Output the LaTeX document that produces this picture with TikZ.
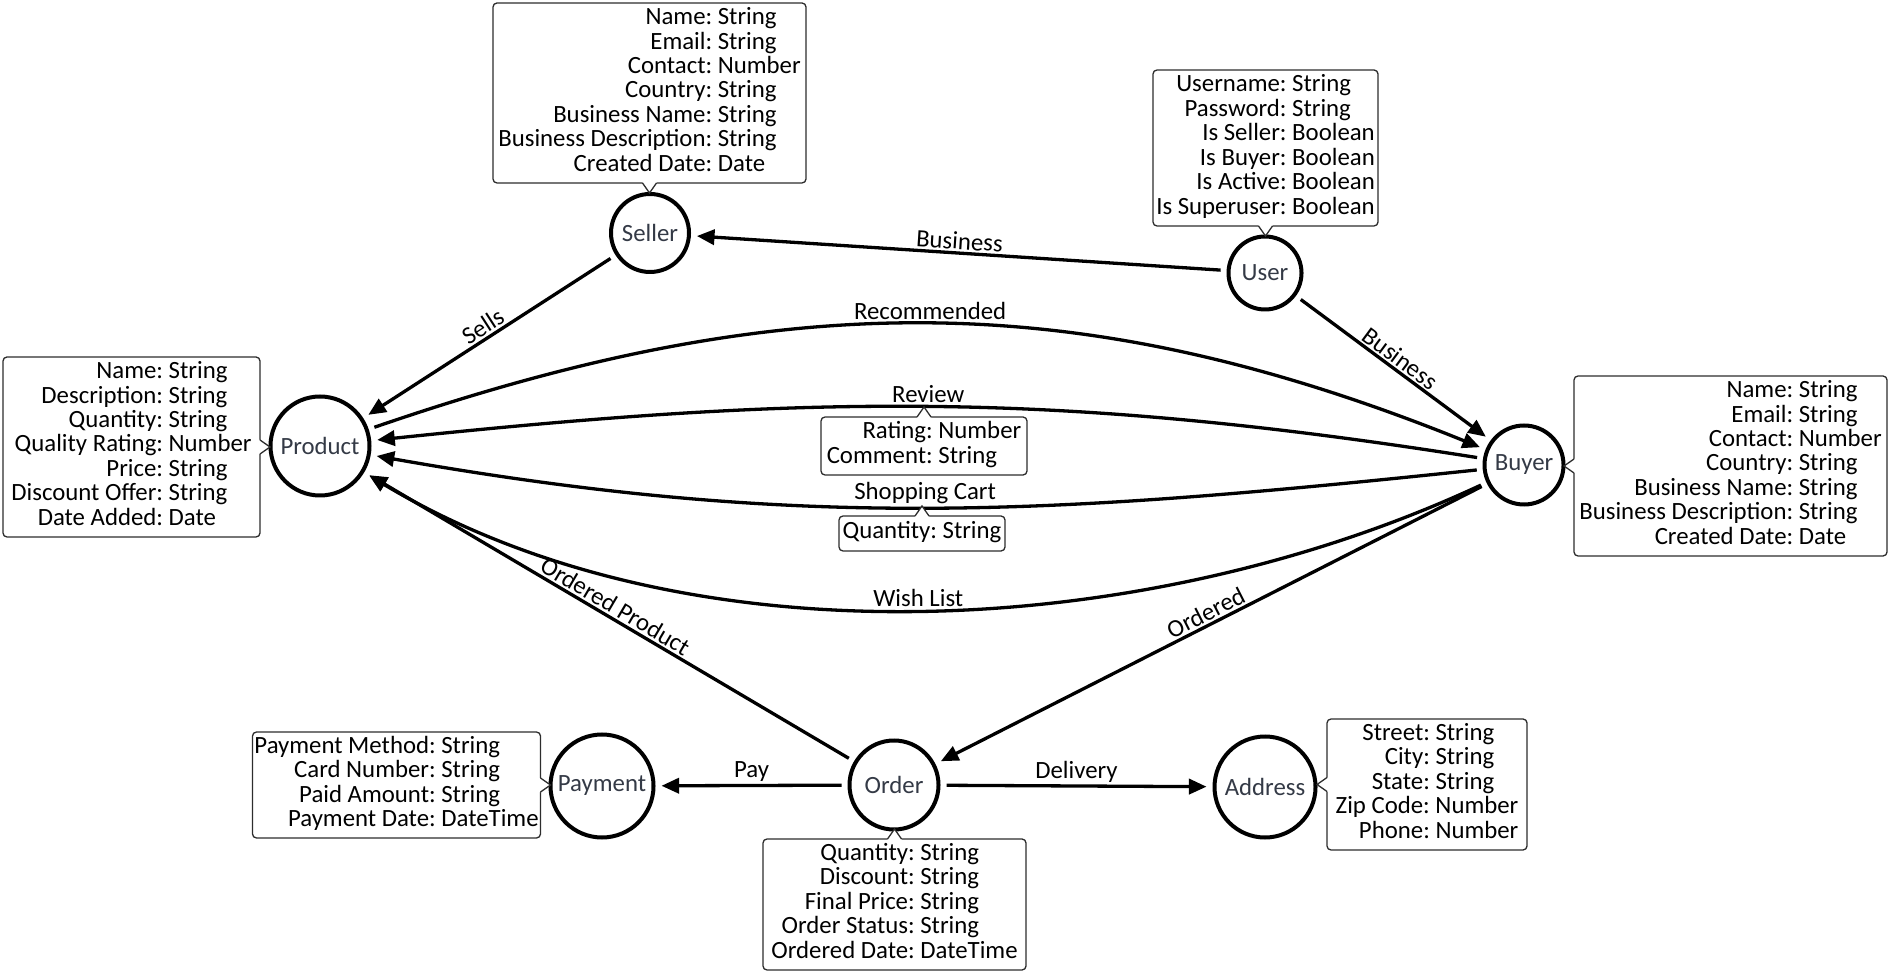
\documentclass[tikz,border=0pt]{standalone}
\usepackage{fontspec}
\setmainfont{Carlito}
\usetikzlibrary{arrows.meta,calc}

\definecolor{entitytext}{RGB}{52,58,70}
\definecolor{boxcol}{RGB}{45,45,45}

% one drawing unit
\newdimen\px \px=0.25pt

\newcommand{\diagfont}{\fontsize{6.2}{6.05}\selectfont}
\newcommand{\attrtab}[1]{\begin{tabular}{@{}r@{\ }l@{}}#1\end{tabular}}

% small triangular tab on the border of an attribute box
% #1 anchor on the box border, #2 outward unit vector, #3 unit vector along the border
\newcommand{\pointer}[3]{%
  \fill[white] ($(#1)-1.4*(#2)+7*(#3)$) -- ($(#1)+7*(#3)$) -- ($(#1)+10*(#2)$)
     -- ($(#1)-7*(#3)$) -- ($(#1)-1.4*(#2)-7*(#3)$) -- cycle;
  \draw[ptrline] ($(#1)+7*(#3)$) -- ($(#1)+10*(#2)$) -- ($(#1)-7*(#3)$);
}

\tikzset{
  entity/.style={circle, draw=black, line width=4\px, fill=white, inner sep=0pt,
                 text=entitytext, font=\diagfont, outer sep=8\px},
  attrbox/.style={draw=boxcol, line width=1.3\px, rounded corners=4\px, fill=white,
                  inner sep=0pt, outer sep=0pt, font=\diagfont},
  ptrline/.style={draw=boxcol, line width=1.3\px, line join=miter},
  rel/.style={line width=3.3\px, -{Triangle[length=4.4pt,width=3.8pt]}},
  elabel/.style={font=\diagfont, inner sep=2\px, text=black},
}

\begin{document}
\begin{tikzpicture}[x=\px,y=\px]
\useasboundingbox (0,0) rectangle (1892,-971);

% entities
\node[entity, minimum size=78\px]  (seller)  at (650,-233)  {Seller};
\node[entity, minimum size=73\px]  (user)    at (1265,-273) {User};
\node[entity, minimum size=99\px]  (product) at (320,-446)  {Product};
\node[entity, minimum size=79\px]  (buyer)   at (1524,-465) {Buyer};
\node[entity, minimum size=103\px] (payment) at (602,-786)  {Payment};
\node[entity, minimum size=89\px]  (order)   at (894,-785)  {Order};
\node[entity, minimum size=101\px] (address) at (1265,-787) {Address};

% relationships
\draw[rel] (user) -- node[elabel, above, sloped] {Business} (seller);
\draw[rel] (seller) -- node[elabel, above, sloped] {Sells} (product);
\draw[rel] (user) -- node[elabel, above, sloped] {Business} (buyer);
\draw[rel] (product) to[out=19, in=158] node[elabel, above] {Recommended} (buyer);
\draw[rel] (buyer) to[out=171, in=6] node[elabel, above] {Review} (product);
\draw[rel] (buyer) to[out=186, in=-10] node[elabel, above] {Shopping Cart} (product);
\draw[rel] (buyer) to[out=205, in=-31, looseness=0.85] node[elabel, above] {Wish List} (product);
\draw[rel] (order) -- node[elabel, above, sloped] {Ordered Product} (product);
\draw[rel] (buyer) -- node[elabel, above, sloped] {Ordered} (order);
\draw[rel] (order) -- node[elabel, above] {Pay} (payment);
\draw[rel] (order) -- node[elabel, above] {Delivery} (address);

% attribute boxes
\node[attrbox, minimum width=313\px, minimum height=180\px] (sellerbox) at (649.5,-93) {\attrtab{
  Name: & String\\ Email: & String\\ Contact: & Number\\ Country: & String\\
  Business Name: & String\\ Business Description: & String\\ Created Date: & Date}};
\node[attrbox, minimum width=225\px, minimum height=156\px] (userbox) at (1265.5,-148) {\attrtab{
  Username: & String\\ Password: & String\\ Is Seller: & Boolean\\ Is Buyer: & Boolean\\
  Is Active: & Boolean\\ Is Superuser: & Boolean}};
\node[attrbox, minimum width=257\px, minimum height=180\px] (productbox) at (131.5,-447) {\attrtab{
  Name: & String\\ Description: & String\\ Quantity: & String\\ Quality Rating: & Number\\
  Price: & String\\ Discount Offer: & String\\ Date Added: & Date}};
\node[attrbox, minimum width=313\px, minimum height=180\px] (buyerbox) at (1730.5,-466) {\attrtab{
  Name: & String\\ Email: & String\\ Contact: & Number\\ Country: & String\\
  Business Name: & String\\ Business Description: & String\\ Created Date: & Date}};
\node[attrbox, minimum width=206\px, minimum height=58\px] (reviewbox) at (924,-446) {\attrtab{
  Rating: & Number\\ Comment: & String}};
\node[attrbox, minimum width=166\px, minimum height=35\px] (cartbox) at (922,-533.5) {\attrtab{
  Quantity: & String}};
\node[attrbox, minimum width=288\px, minimum height=106\px] (paymentbox) at (396.5,-785) {\attrtab{
  Payment Method: & String\\ Card Number: & String\\ Paid Amount: & String\\ Payment Date: & DateTime}};
\node[attrbox, minimum width=263\px, minimum height=131\px] (orderbox) at (894.5,-904.5) {\attrtab{
  Quantity: & String\\ Discount: & String\\ Final Price: & String\\ Order Status: & String\\
  Ordered Date: & DateTime}};
\node[attrbox, minimum width=200\px, minimum height=131\px] (addressbox) at (1427,-784.5) {\attrtab{
  Street: & String\\ City: & String\\ State: & String\\ Zip Code: & Number\\ Phone: & Number}};

% tabs pointing from each box to its owner
\pointer{sellerbox.south}{0,-1}{1,0}
\pointer{userbox.south}{0,-1}{1,0}
\pointer{productbox.east}{1,0}{0,1}
\pointer{buyerbox.west}{-1,0}{0,1}
\pointer{reviewbox.north}{0,1}{1,0}
\pointer{cartbox.north}{0,1}{1,0}
\pointer{paymentbox.east}{1,0}{0,1}
\pointer{orderbox.north}{0,1}{1,0}
\pointer{addressbox.west}{-1,0}{0,1}
\end{tikzpicture}
\end{document}
